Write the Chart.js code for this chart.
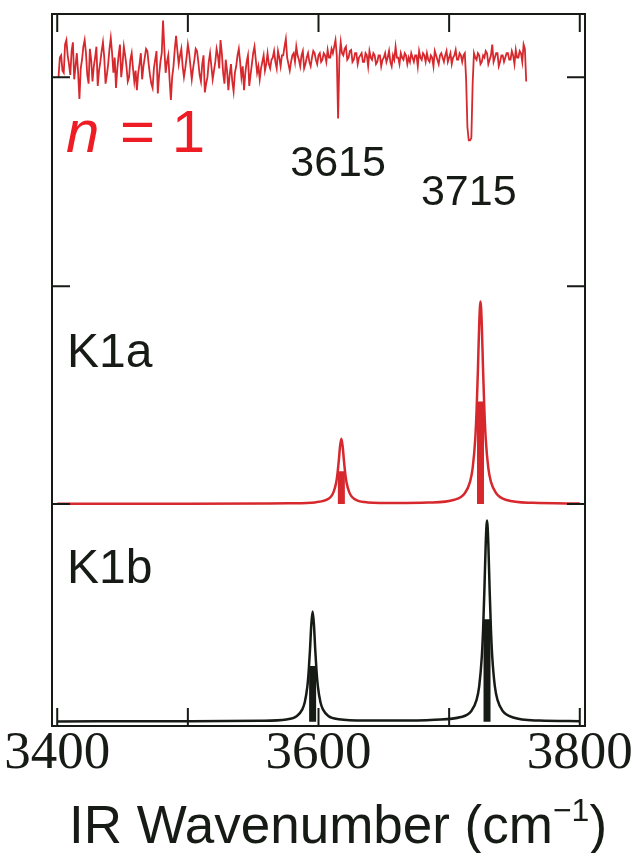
<!DOCTYPE html>
<html>
<head>
<meta charset="utf-8">
<script src="https://cdn.jsdelivr.net/npm/chart.js@4.4.1/dist/chart.umd.min.js"></script>
<style>
  html, body { margin: 0; padding: 0; background: #fff; }
  #wrap { width: 632px; height: 853px; }
</style>
</head>
<body>
<div id="wrap"><canvas id="ir-chart" width="632" height="853"></canvas></div>
<script>
// n = 1 measured IR spectrum (offset trace at the top), 1 cm-1 steps
const n1Wavenumber = [
  3401, 3402, 3403, 3404, 3405, 3406, 3407, 3408, 3409, 3410, 3411, 3412, 3413, 3414, 3415, 3416, 3417, 3418, 3419, 3420,
  3421, 3422, 3423, 3424, 3425, 3426, 3427, 3428, 3429, 3430, 3431, 3432, 3433, 3434, 3435, 3436, 3437, 3438, 3439, 3440,
  3441, 3442, 3443, 3444, 3445, 3446, 3447, 3448, 3449, 3450, 3451, 3452, 3453, 3454, 3455, 3456, 3457, 3458, 3459, 3460,
  3461, 3462, 3463, 3464, 3465, 3466, 3467, 3468, 3469, 3470, 3471, 3472, 3473, 3474, 3475, 3476, 3477, 3478, 3479, 3480,
  3481, 3482, 3483, 3484, 3485, 3486, 3487, 3488, 3489, 3490, 3491, 3492, 3493, 3494, 3495, 3496, 3497, 3498, 3499, 3500,
  3501, 3502, 3503, 3504, 3505, 3506, 3507, 3508, 3509, 3510, 3511, 3512, 3513, 3514, 3515, 3516, 3517, 3518, 3519, 3520,
  3521, 3522, 3523, 3524, 3525, 3526, 3527, 3528, 3529, 3530, 3531, 3532, 3533, 3534, 3535, 3536, 3537, 3538, 3539, 3540,
  3541, 3542, 3543, 3544, 3545, 3546, 3547, 3548, 3549, 3550, 3551, 3552, 3553, 3554, 3555, 3556, 3557, 3558, 3559, 3560,
  3561, 3562, 3563, 3564, 3565, 3566, 3567, 3568, 3569, 3570, 3571, 3572, 3573, 3574, 3575, 3576, 3577, 3578, 3579, 3580,
  3581, 3582, 3583, 3584, 3585, 3586, 3587, 3588, 3589, 3590, 3591, 3592, 3593, 3594, 3595, 3596, 3597, 3598, 3599, 3600,
  3601, 3602, 3603, 3604, 3605, 3606, 3607, 3608, 3609, 3610, 3611, 3612, 3613, 3614, 3615, 3616, 3617, 3618, 3619, 3620,
  3621, 3622, 3623, 3624, 3625, 3626, 3627, 3628, 3629, 3630, 3631, 3632, 3633, 3634, 3635, 3636, 3637, 3638, 3639, 3640,
  3641, 3642, 3643, 3644, 3645, 3646, 3647, 3648, 3649, 3650, 3651, 3652, 3653, 3654, 3655, 3656, 3657, 3658, 3659, 3660,
  3661, 3662, 3663, 3664, 3665, 3666, 3667, 3668, 3669, 3670, 3671, 3672, 3673, 3674, 3675, 3676, 3677, 3678, 3679, 3680,
  3681, 3682, 3683, 3684, 3685, 3686, 3687, 3688, 3689, 3690, 3691, 3692, 3693, 3694, 3695, 3696, 3697, 3698, 3699, 3700,
  3701, 3702, 3703, 3704, 3705, 3706, 3707, 3708, 3709, 3710, 3711, 3712, 3713, 3714, 3715, 3716, 3717, 3718, 3719, 3720,
  3721, 3722, 3723, 3724, 3725, 3726, 3727, 3728, 3729, 3730, 3731, 3732, 3733, 3734, 3735, 3736, 3737, 3738, 3739, 3740,
  3741, 3742, 3743, 3744, 3745, 3746, 3747, 3748, 3749, 3750, 3751, 3752, 3753, 3754, 3755, 3756, 3757, 3758, 3759
];
const n1Signal = [
  -0.07, 0.02, 0.03, -0.04, -0.05, 0.08, 0.10, 0.03, -0.01, -0.06, 0.05, 0.09, -0.08, -0.02, 0.04, -0.05, -0.17, -0.03, 0.01, 0.07,
  0.10, 0.04, -0.06, -0.10, 0.06, 0.01, -0.09, -0.02, 0.02, 0.07, -0.11, -0.04, 0.00, 0.05, 0.09, 0.02, -0.10, -0.06, -0.01, 0.06,
  0.11, 0.04, -0.05, 0.02, -0.12, -0.03, 0.03, 0.08, -0.07, -0.01, 0.07, 0.03, -0.02, -0.09, -0.07, 0.01, 0.04, -0.03, -0.09, -0.04,
  -0.13, -0.05, -0.01, 0.04, -0.08, -0.02, 0.02, 0.06, 0.05, -0.01, -0.06, -0.10, -0.12, -0.03, 0.01, 0.05, -0.145, -0.06, 0.00, 0.04,
  0.19, 0.06, -0.05, 0.00, 0.03, -0.08, -0.175, -0.07, -0.02, 0.06, 0.12, 0.05, -0.01, 0.03, 0.06, -0.02, -0.07, -0.03, 0.02, 0.08,
  0.04, -0.02, -0.08, -0.03, 0.01, 0.06, 0.05, 0.00, -0.06, -0.09, -0.01, 0.03, -0.14, -0.10, -0.07, 0.00, 0.04, -0.02, -0.08, -0.04,
  0.00, 0.06, 0.03, -0.03, 0.10, 0.04, -0.05, -0.10, 0.01, -0.04, -0.13, -0.06, -0.01, -0.09, -0.135, -0.05, -0.02, 0.03, 0.06, 0.00,
  -0.07, -0.02, -0.13, -0.05, 0.00, 0.03, -0.11, -0.06, -0.01, 0.04, 0.07, 0.01, -0.05, -0.02, -0.08, -0.03, 0.00, 0.03, -0.04, -0.01,
  0.04, -0.01, -0.03, 0.01, 0.02, 0.05, 0.00, -0.03, 0.05, 0.02, -0.02, 0.03, 0.03, 0.07, 0.105, 0.02, -0.01, -0.04, 0.00, 0.03,
  0.04, 0.00, 0.07, 0.03, 0.01, -0.02, 0.03, 0.05, -0.03, -0.01, 0.02, 0.04, 0.00, -0.02, 0.02, 0.05, 0.04, 0.01, -0.01, 0.03,
  0.04, 0.00, 0.01, 0.04, 0.03, 0.00, 0.055, 0.02, 0.02, 0.06, 0.04, 0.07, 0.10, 0.03, -0.26, 0.02, 0.09, 0.04, 0.03, 0.06,
  0.07, 0.01, 0.02, 0.05, 0.055, 0.00, 0.01, 0.04, 0.04, -0.01, 0.02, 0.03, 0.04, 0.00, 0.00, 0.04, 0.03, -0.02, 0.05, 0.02,
  0.01, 0.04, 0.03, -0.01, 0.00, 0.03, 0.03, -0.02, 0.01, 0.02, 0.04, 0.00, 0.02, 0.05, 0.00, -0.02, 0.03, 0.01, 0.07, 0.02,
  0.02, -0.01, 0.04, 0.02, 0.01, 0.04, 0.03, -0.01, 0.02, 0.00, 0.04, 0.02, 0.00, 0.03, 0.03, -0.02, 0.05, 0.02, 0.01, 0.04,
  0.03, 0.00, 0.04, 0.01, 0.00, 0.03, 0.02, -0.02, 0.05, 0.03, 0.01, -0.01, 0.03, 0.04, 0.02, 0.00, 0.03, 0.05, 0.00, 0.02,
  0.04, -0.01, 0.02, 0.03, 0.055, 0.01, 0.01, 0.04, 0.03, 0.00, 0.03, 0.04, -0.08, -0.30, -0.36, -0.36, -0.35, -0.10, 0.04, 0.02,
  0.01, 0.04, 0.03, -0.01, 0.00, 0.03, 0.02, 0.05, 0.04, -0.01, 0.01, 0.03, 0.08, 0.00, 0.02, 0.04, 0.04, -0.02, 0.00, 0.03,
  0.03, 0.00, 0.02, 0.04, 0.04, 0.01, 0.01, 0.05, 0.03, -0.01, 0.055, 0.02, 0.02, 0.05, 0.04, 0.00, 0.08, 0.06, -0.09
];
const n1Offset = 3.03;

// K1a simulated spectrum (Lorentzian envelope), offset 1
const k1aWavenumber = [
  3400, 3500, 3557.5, 3577.5, 3597.5, 3605.5, 3609.5, 3611.5, 3613.5, 3614.5, 3615.5, 3616.5, 3617.5, 3618.5, 3619.5, 3620.5,
  3621.5, 3623.5, 3625.5, 3629.5, 3637.5, 3660, 3684, 3704, 3712, 3716, 3718, 3720, 3721, 3722, 3723, 3724, 3725, 3726, 3727,
  3728, 3730, 3732, 3736, 3744, 3764, 3800
];
const k1aIntensity = [
  0.001, 0.001, 0.002, 0.003, 0.007, 0.017, 0.033, 0.054, 0.097, 0.138, 0.196, 0.264, 0.299, 0.264, 0.196, 0.138,
  0.097, 0.054, 0.033, 0.016, 0.007, 0.004, 0.006, 0.019, 0.049, 0.101, 0.164, 0.300, 0.426, 0.609, 0.822, 0.930, 0.822, 0.609, 0.426,
  0.300, 0.164, 0.101, 0.049, 0.018, 0.005, 0.002
];
const k1aOffset = 1;
const k1aStickPos = [3617.5, 3724];
const k1aStickInt = [0.15, 0.47];

// K1b simulated spectrum, offset 0
const k1bWavenumber = [
  3400, 3500, 3555.5, 3575.5, 3583.5, 3587.5, 3589.5, 3591.5, 3592.5, 3593.5, 3594.5, 3595.5, 3596.5, 3597.5, 3598.5, 3599.5,
  3601.5, 3603.5, 3607.5, 3615.5, 3635.5, 3660, 3689, 3709, 3717, 3721, 3723, 3725, 3726, 3727, 3728, 3729, 3730, 3731, 3732,
  3733, 3735, 3737, 3741, 3749, 3769, 3800
];
const k1bIntensity = [
  0.001, 0.002, 0.004, 0.010, 0.026, 0.055, 0.089, 0.163, 0.232, 0.331, 0.447, 0.506, 0.447, 0.331, 0.232, 0.163,
  0.089, 0.055, 0.026, 0.011, 0.005, 0.005, 0.009, 0.021, 0.049, 0.100, 0.162, 0.298, 0.423, 0.605, 0.817, 0.924, 0.817, 0.605, 0.423,
  0.298, 0.162, 0.100, 0.049, 0.019, 0.005, 0.002
];
const k1bOffset = 0;
const k1bStickPos = [3595.5, 3729];
const k1bStickInt = [0.255, 0.47];

// axis ticks
const xTickMarks = [3400, 3500, 3600, 3700, 3800];
const xTickLabels = [3400, 3600, 3800];
const yTickMarks = [1, 2, 2.96];

const RED = '#d6282d';
const BLACK = '#161b16';
const SANS = '"Liberation Sans", Arial, sans-serif';

function trace(xs, ys, offset) {
  return xs.map((x, i) => ({ x: x, y: ys[i] + offset }));
}

// vertical sticks, separated by null gaps
function sticks(xs, ys, offset) {
  const pts = [];
  xs.forEach((x, i) => {
    pts.push({ x: x, y: offset }, { x: x, y: offset + ys[i] }, { x: x, y: null });
  });
  return pts;
}

// frame, inward ticks and all text
const decorations = {
  id: 'decorations',
  afterDraw(chart) {
    const { ctx, chartArea: a, scales: { x, y } } = chart;
    ctx.save();
    ctx.strokeStyle = BLACK;
    ctx.lineWidth = 2;
    ctx.strokeRect(a.left, a.top, a.right - a.left, a.bottom - a.top);

    const len = 18;
    ctx.beginPath();
    xTickMarks.forEach(v => {
      const px = x.getPixelForValue(v);
      ctx.moveTo(px, a.top); ctx.lineTo(px, a.top + len);
      ctx.moveTo(px, a.bottom); ctx.lineTo(px, a.bottom - len);
    });
    yTickMarks.forEach(v => {
      const py = y.getPixelForValue(v);
      ctx.moveTo(a.left, py); ctx.lineTo(a.left + len, py);
      ctx.moveTo(a.right, py); ctx.lineTo(a.right - len, py);
    });
    ctx.stroke();

    // tick labels
    ctx.fillStyle = BLACK;
    ctx.textAlign = 'center';
    ctx.textBaseline = 'alphabetic';
    ctx.font = '53px "Liberation Serif", "Times New Roman", serif';
    xTickLabels.forEach(v => {
      ctx.fillText(String(v), x.getPixelForValue(v), 768);
    });

    // axis title with superscript
    const big = '53px ' + SANS, small = '32px ' + SANS;
    const t1 = 'IR Wavenumber (cm', sup = '\u22121', t3 = ')';
    ctx.font = big;
    const w1 = ctx.measureText(t1).width;
    const w3 = ctx.measureText(t3).width;
    ctx.font = small;
    const w2 = ctx.measureText(sup).width;
    const sx = 338 - (w1 + w2 + w3) / 2;
    ctx.textAlign = 'left';
    ctx.font = big;
    ctx.fillText(t1, sx, 843);
    ctx.font = small;
    ctx.fillText(sup, sx + w1, 821);
    ctx.font = big;
    ctx.fillText(t3, sx + w1 + w2, 843);

    // peak labels
    ctx.textAlign = 'center';
    ctx.font = '43px ' + SANS;
    ctx.fillText('3615', x.getPixelForValue(3615), 176);
    ctx.fillText('3715', x.getPixelForValue(3715), 205);

    // trace labels
    ctx.textAlign = 'left';
    ctx.font = '48px ' + SANS;
    ctx.fillText('K1a', 67, 367);
    ctx.fillText('K1b', 67, 583);

    ctx.fillStyle = '#ee1c25';
    ctx.font = 'italic 60px ' + SANS;
    ctx.fillText('n', 66, 152);
    const wn = ctx.measureText('n ').width;
    ctx.font = '60px ' + SANS;
    ctx.fillText('= 1', 66 + wn + 4, 152);
    ctx.restore();
  }
};

new Chart(document.getElementById('ir-chart'), {
  type: 'line',
  data: {
    datasets: [
      { data: trace(n1Wavenumber, n1Signal, n1Offset), borderColor: RED, borderWidth: 1.8, tension: 0 },
      { data: trace(k1aWavenumber, k1aIntensity, k1aOffset), borderColor: RED, borderWidth: 2.5, cubicInterpolationMode: 'monotone' },
      { data: sticks(k1aStickPos, k1aStickInt, k1aOffset), borderColor: RED, borderWidth: 7, borderCapStyle: 'butt', spanGaps: false },
      { data: trace(k1bWavenumber, k1bIntensity, k1bOffset), borderColor: BLACK, borderWidth: 2.5, cubicInterpolationMode: 'monotone' },
      { data: sticks(k1bStickPos, k1bStickInt, k1bOffset), borderColor: BLACK, borderWidth: 7, borderCapStyle: 'butt', spanGaps: false }
    ]
  },
  options: {
    responsive: false,
    devicePixelRatio: 1,
    animation: false,
    layout: { padding: { left: 52, top: 14, right: 47, bottom: 127 } },
    elements: { point: { radius: 0, hoverRadius: 0 } },
    plugins: { legend: { display: false }, tooltip: { enabled: false } },
    scales: {
      x: { type: 'linear', min: 3396, max: 3804, display: false },
      y: { type: 'linear', min: -0.02, max: 3.25, display: false }
    }
  },
  plugins: [decorations]
});
</script>
</body>
</html>
